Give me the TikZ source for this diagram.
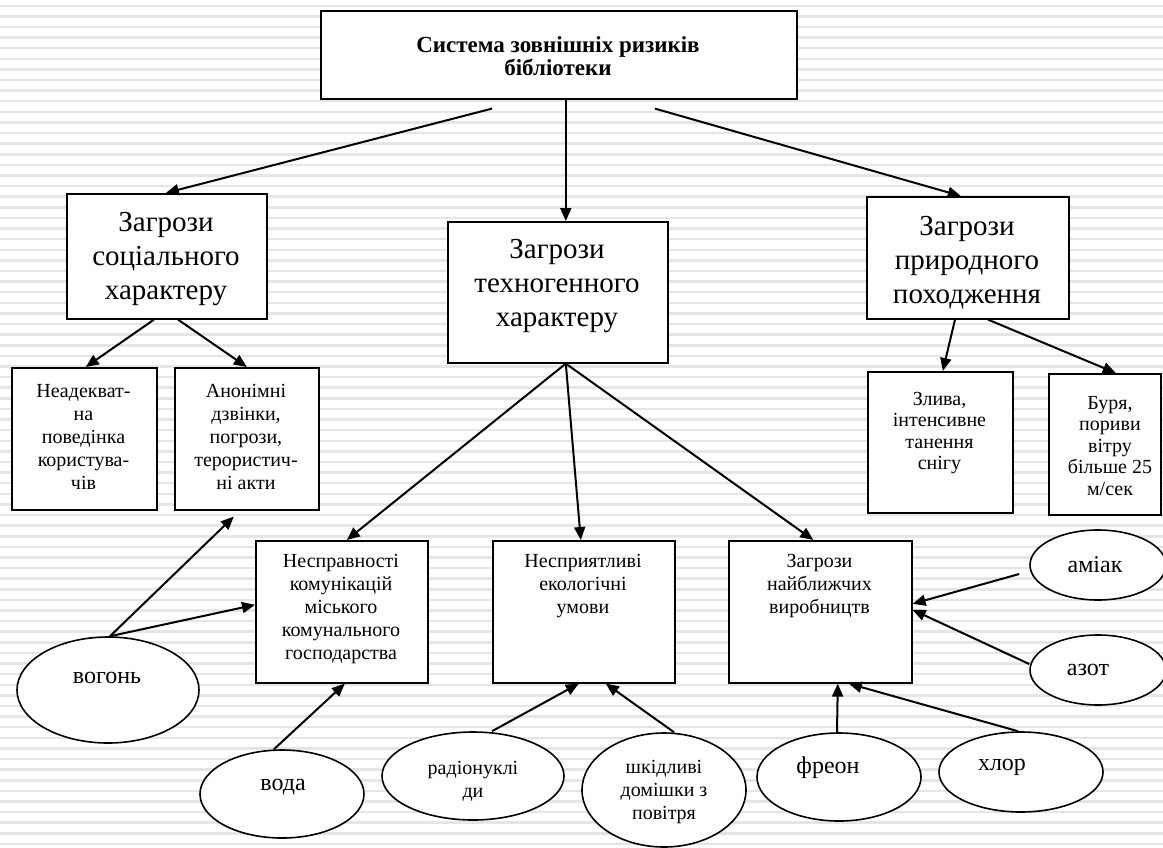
\documentclass[tikz,border=0pt]{standalone}
\usepackage{fontspec}
\setmainfont{Liberation Serif}
\usetikzlibrary{arrows.meta,shapes.geometric}
\begin{document}
\begin{tikzpicture}[x=1pt,y=-1pt,
  stripe/.style={fill=black!10},
  bx/.style={draw=black, line width=1.6pt, fill=white, inner sep=0pt, anchor=north west},
  el/.style={ellipse, draw=black, line width=1.6pt, fill=white, inner sep=0pt},
  ttl/.style={align=center, font=\bfseries\fontsize{23}{23}\selectfont, inner sep=0pt},
  big/.style={align=center, font=\fontsize{29}{34}\selectfont, inner sep=0pt},
  sm/.style={align=center, font=\fontsize{20}{23}\selectfont, inner sep=0pt},
  smr/.style={align=center, font=\fontsize{20}{21.5}\selectfont, inner sep=0pt},
  elt/.style={align=center, font=\fontsize{24}{28}\selectfont, inner sep=0pt},
  arr/.style={-{Triangle[length=13pt,width=11pt]}, line width=2pt}]
\useasboundingbox (0,0) rectangle (1163,847);
\fill[white] (0,0) rectangle (1163,847);
\foreach \i in {0,...,79} {\fill[stripe] (0,{4.5+\i*10.61}) rectangle (1163,{7+\i*10.61});}

% boxes
\node[bx, minimum width=476pt, minimum height=88pt] (top) at (320,10) {};
\node[ttl] (topt) at (558,56) {Система зовнішніх ризиків\\бібліотеки};

\node[bx, minimum width=200pt, minimum height=125pt] (soc) at (66,193) {};
\node[big] (soct) at (166,259) {Загрози\\соціального\\характеру};

\node[bx, minimum width=220pt, minimum height=141pt] (tech) at (447,221) {};
\node[big] (techt) at (557,286) {Загрози\\техногенного\\характеру};

\node[bx, minimum width=202pt, minimum height=122pt] (nat) at (866,196) {};
\node[big] (natt) at (967,263) {Загрози\\природного\\походження};

\node[bx, minimum width=145pt, minimum height=142pt] (l1) at (11,367) {};
\node[sm] (l1t) at (83.5,437) {Неадекват-\\на\\поведінка\\користува-\\чів};

\node[bx, minimum width=144pt, minimum height=142pt] (l2) at (174,367) {};
\node[sm] (l2t) at (246,437) {Анонімні\\дзвінки,\\погрози,\\терористич-\\ні акти};

\node[bx, minimum width=145pt, minimum height=141pt] (zl) at (867,371) {};
\node[smr] (zlt) at (939.5,433) {Злива,\\інтенсивне\\танення\\снігу};

\node[bx, minimum width=112pt, minimum height=141pt] (bu) at (1048,373) {};
\node[smr] (but) at (1110,446) {Буря,\\пориви\\вітру\\більше 25\\м/сек};

\node[bx, minimum width=172pt, minimum height=142pt] (b1) at (255,540) {};
\node[sm] (b1t) at (341,609) {Несправності\\комунікацій\\міського\\комунального\\господарства};

\node[bx, minimum width=182pt, minimum height=142pt] (b2) at (492,540) {};
\node[sm] (b2t) at (583,586) {Несприятливі\\екологічні\\умови};

\node[bx, minimum width=183pt, minimum height=142pt] (b3) at (728,540) {};
\node[sm] (b3t) at (819.5,586) {Загрози\\найближчих\\виробництв};

% ellipses
\node[el, minimum width=182pt, minimum height=106pt] (vog) at (108,690) {};
\node[elt] (vogt) at (107,678) {вогонь};
\node[el, minimum width=164pt, minimum height=88pt] (vod) at (282,794) {};
\node[elt] (vodt) at (283,787) {вода};
\node[el, minimum width=182pt, minimum height=88pt] (rad) at (473,776) {};
\node[sm] (radt) at (473,781) {радіонуклі\\ди};
\node[el, minimum width=164pt, minimum height=114pt] (shk) at (664,790) {};
\node[sm] (shkt) at (664,792) {шкідливі\\домішки з\\повітря};
\node[el, minimum width=164pt, minimum height=88pt] (fre) at (839,777) {};
\node[elt] (fret) at (828,768) {фреон};
\node[el, minimum width=164pt, minimum height=80pt] (khl) at (1021,772) {};
\node[elt] (khlt) at (1002,767) {хлор};
\node[el, minimum width=136pt, minimum height=70pt] (am) at (1098,565) {};
\node[elt] (amt) at (1095,565) {аміак};
\node[el, minimum width=136pt, minimum height=70pt] (az) at (1098,670) {};
\node[elt] (azt) at (1088,670) {азот};

% connectors
\draw[arr] ([xshift=172pt,yshift=-9pt]top.south west) -- ([xshift=-1pt]soc.north);
\draw[arr] ([xshift=7pt]top.south) -- ([xshift=8pt]tech.north);
\draw[arr] ([xshift=335pt,yshift=-9pt]top.south west) -- ([xshift=-7pt]nat.north);
\draw[arr] ([xshift=88pt]soc.south west) -- ([xshift=1.5pt]l1.north);
\draw[arr] ([xshift=112pt]soc.south west) -- (l2.north);
\draw[arr] ([xshift=89pt]nat.south west) -- ([xshift=2.5pt]zl.north);
\draw[arr] ([xshift=122pt]nat.south west) -- ([xshift=11pt]bu.north);
\draw[arr] ([xshift=8pt]tech.south) -- ([xshift=5pt]b1.north);
\draw[arr] ([xshift=8pt]tech.south) -- ([xshift=-3pt]b2.north);
\draw[arr] ([xshift=8pt]tech.south) -- ([xshift=-7pt]b3.north);
\draw[arr] ([xshift=2pt]vog.north) -- ([xshift=-13pt,yshift=-6pt]l2.south);
\draw[arr] ([xshift=2pt]vog.north) -- ([yshift=7pt]b1.west);
\draw[arr] ([xshift=-8pt]vod.north) -- ([xshift=3pt]b1.south);
\draw[arr] ([xshift=19pt]rad.north) -- ([xshift=-5pt]b2.south);
\draw[arr] ([xshift=10pt]shk.north) -- ([xshift=22pt]b2.south);
\draw[arr] ([xshift=-2pt]fre.north) -- ([xshift=17.5pt]b3.south);
\draw[arr] ([xshift=-3pt]khl.north) -- ([xshift=28.5pt]b3.south);
\draw[arr] ([xshift=-10pt,yshift=-9pt]am.west) -- ([yshift=8pt]b3.east);
\draw[arr] ([yshift=6pt]az.west) -- ([yshift=2pt]b3.east);
\end{tikzpicture}
\end{document}
